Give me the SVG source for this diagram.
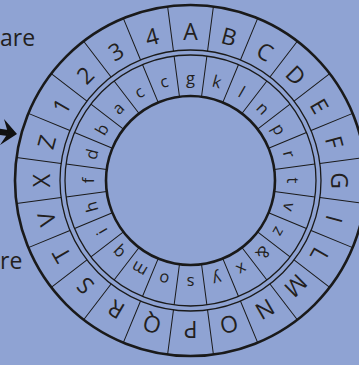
<svg xmlns="http://www.w3.org/2000/svg" xmlns:xlink="http://www.w3.org/1999/xlink" width="359" height="365" viewBox="0 0 359 365">
<style>
.bg{fill:#8FA3D3}
.thick{fill:none;stroke:#1a1a1a;stroke-width:2.6}
.thin{fill:none;stroke:#1a1a1a;stroke-width:1.3}
.div{stroke:#1a1a1a;stroke-width:1;fill:none}
.cap{font-family:"Open Sans","Noto Sans",sans-serif;font-size:23px;fill:#231f20;text-anchor:middle}
.low{font-family:"Open Sans","Noto Sans",sans-serif;font-size:16.5px;fill:#231f20;text-anchor:middle}
.side{font-family:"Open Sans","Noto Sans",sans-serif;font-size:23px;fill:#231f20}
</style>
<defs>
<path id="d" class="div" d="M190.5 5 V50 M190.5 55 V96"/>
</defs>
<rect class="bg" x="0" y="0" width="359" height="365"/>
<g id="side-text">
<text class="side" x="0" y="46">are</text>
<text class="side" x="0" y="269">re</text>
</g>
<g id="arrow">
<path d="M-6 131 L8 133" stroke="#111" stroke-width="6" fill="none"/>
<polygon points="17,134 4,119 8,133 0,145" fill="#111"/>
</g>
<g id="disk">
<circle class="thick" cx="190.5" cy="180.5" r="175.5"/>
<circle class="thin" cx="190.5" cy="180.5" r="130.5"/>
<circle class="thin" cx="190.5" cy="180.5" r="125.5"/>
<circle class="thick" cx="190.5" cy="180.5" r="84.5"/>
</g>
<g id="connectors">
<use xlink:href="#d" transform="rotate(7.5 190.5 180.5)"/>
<use xlink:href="#d" transform="rotate(22.5 190.5 180.5)"/>
<use xlink:href="#d" transform="rotate(37.5 190.5 180.5)"/>
<use xlink:href="#d" transform="rotate(52.5 190.5 180.5)"/>
<use xlink:href="#d" transform="rotate(67.5 190.5 180.5)"/>
<use xlink:href="#d" transform="rotate(82.5 190.5 180.5)"/>
<use xlink:href="#d" transform="rotate(97.5 190.5 180.5)"/>
<use xlink:href="#d" transform="rotate(112.5 190.5 180.5)"/>
<use xlink:href="#d" transform="rotate(127.5 190.5 180.5)"/>
<use xlink:href="#d" transform="rotate(142.5 190.5 180.5)"/>
<use xlink:href="#d" transform="rotate(157.5 190.5 180.5)"/>
<use xlink:href="#d" transform="rotate(172.5 190.5 180.5)"/>
<use xlink:href="#d" transform="rotate(187.5 190.5 180.5)"/>
<use xlink:href="#d" transform="rotate(202.5 190.5 180.5)"/>
<use xlink:href="#d" transform="rotate(217.5 190.5 180.5)"/>
<use xlink:href="#d" transform="rotate(232.5 190.5 180.5)"/>
<use xlink:href="#d" transform="rotate(247.5 190.5 180.5)"/>
<use xlink:href="#d" transform="rotate(262.5 190.5 180.5)"/>
<use xlink:href="#d" transform="rotate(277.5 190.5 180.5)"/>
<use xlink:href="#d" transform="rotate(292.5 190.5 180.5)"/>
<use xlink:href="#d" transform="rotate(307.5 190.5 180.5)"/>
<use xlink:href="#d" transform="rotate(322.5 190.5 180.5)"/>
<use xlink:href="#d" transform="rotate(337.5 190.5 180.5)"/>
<use xlink:href="#d" transform="rotate(352.5 190.5 180.5)"/>
</g>
<g id="outer-letters">
<text class="cap" x="190.5" y="40" transform="rotate(0 190.5 180.5)">A</text>
<text class="cap" x="190.5" y="40" transform="rotate(15 190.5 180.5)">B</text>
<text class="cap" x="190.5" y="40" transform="rotate(30 190.5 180.5)">C</text>
<text class="cap" x="190.5" y="40" transform="rotate(45 190.5 180.5)">D</text>
<text class="cap" x="190.5" y="40" transform="rotate(60 190.5 180.5)">E</text>
<text class="cap" x="190.5" y="40" transform="rotate(75 190.5 180.5)">F</text>
<text class="cap" x="190.5" y="40" transform="rotate(90 190.5 180.5)">G</text>
<text class="cap" x="190.5" y="40" transform="rotate(105 190.5 180.5)">I</text>
<text class="cap" x="190.5" y="40" transform="rotate(120 190.5 180.5)">L</text>
<text class="cap" x="190.5" y="40" transform="rotate(135 190.5 180.5)">M</text>
<text class="cap" x="190.5" y="40" transform="rotate(150 190.5 180.5)">N</text>
<text class="cap" x="190.5" y="40" transform="rotate(165 190.5 180.5)">O</text>
<text class="cap" x="190.5" y="40" transform="rotate(180 190.5 180.5)">P</text>
<text class="cap" x="190.5" y="40" transform="rotate(195 190.5 180.5)">Q</text>
<text class="cap" x="190.5" y="40" transform="rotate(210 190.5 180.5)">R</text>
<text class="cap" x="190.5" y="40" transform="rotate(225 190.5 180.5)">S</text>
<text class="cap" x="190.5" y="40" transform="rotate(240 190.5 180.5)">T</text>
<text class="cap" x="190.5" y="40" transform="rotate(255 190.5 180.5)">V</text>
<text class="cap" x="190.5" y="40" transform="rotate(270 190.5 180.5)">X</text>
<text class="cap" x="190.5" y="40" transform="rotate(285 190.5 180.5)">Z</text>
<text class="cap" x="190.5" y="40" transform="rotate(300 190.5 180.5)">1</text>
<text class="cap" x="190.5" y="40" transform="rotate(315 190.5 180.5)">2</text>
<text class="cap" x="190.5" y="40" transform="rotate(330 190.5 180.5)">3</text>
<text class="cap" x="190.5" y="40" transform="rotate(345 190.5 180.5)">4</text>
</g>
<g id="inner-letters">
<text class="low" x="190.5" y="84" transform="rotate(0 190.5 180.5)">g</text>
<text class="low" x="190.5" y="84" transform="rotate(15 190.5 180.5)">k</text>
<text class="low" x="190.5" y="84" transform="rotate(30 190.5 180.5)">l</text>
<text class="low" x="190.5" y="84" transform="rotate(45 190.5 180.5)">n</text>
<text class="low" x="190.5" y="84" transform="rotate(60 190.5 180.5)">p</text>
<text class="low" x="190.5" y="84" transform="rotate(75 190.5 180.5)">r</text>
<text class="low" x="190.5" y="84" transform="rotate(90 190.5 180.5)">t</text>
<text class="low" x="190.5" y="84" transform="rotate(105 190.5 180.5)">v</text>
<text class="low" x="190.5" y="84" transform="rotate(120 190.5 180.5)">z</text>
<text class="low" x="190.5" y="84" transform="rotate(135 190.5 180.5)">&amp;</text>
<text class="low" x="190.5" y="84" transform="rotate(150 190.5 180.5)">x</text>
<text class="low" x="190.5" y="84" transform="rotate(165 190.5 180.5)">y</text>
<text class="low" x="190.5" y="84" transform="rotate(180 190.5 180.5)">s</text>
<text class="low" x="190.5" y="84" transform="rotate(195 190.5 180.5)">o</text>
<text class="low" x="190.5" y="84" transform="rotate(210 190.5 180.5)">m</text>
<text class="low" x="190.5" y="84" transform="rotate(225 190.5 180.5)">q</text>
<text class="low" x="190.5" y="84" transform="rotate(240 190.5 180.5)">i</text>
<text class="low" x="190.5" y="84" transform="rotate(255 190.5 180.5)">h</text>
<text class="low" x="190.5" y="84" transform="rotate(270 190.5 180.5)">f</text>
<text class="low" x="190.5" y="84" transform="rotate(285 190.5 180.5)">d</text>
<text class="low" x="190.5" y="84" transform="rotate(300 190.5 180.5)">b</text>
<text class="low" x="190.5" y="84" transform="rotate(315 190.5 180.5)">a</text>
<text class="low" x="190.5" y="84" transform="rotate(330 190.5 180.5)">c</text>
<text class="low" x="190.5" y="84" transform="rotate(345 190.5 180.5)">c</text>
</g>
</svg>
